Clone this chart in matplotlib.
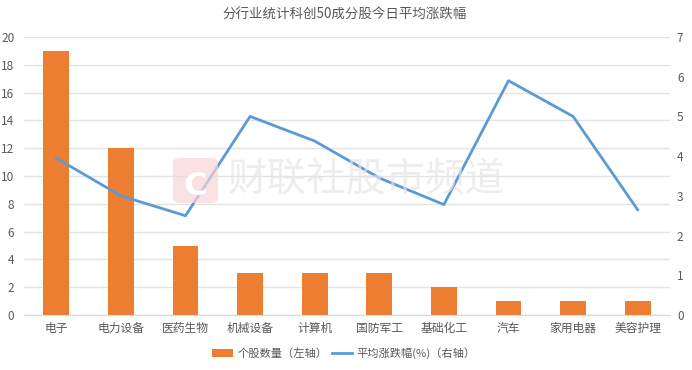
import matplotlib
matplotlib.use("Agg")
import matplotlib.pyplot as plt
from matplotlib.patches import FancyBboxPatch

plt.rcParams['font.family'] = ['Noto Sans CJK SC', 'DejaVu Sans']

categories = ["电子", "电力设备", "医药生物", "机械设备", "计算机", "国防军工", "基础化工", "汽车", "家用电器", "美容护理"]
counts = [19, 12, 5, 3, 3, 3, 2, 1, 1, 1]
changes = [3.95, 3.0, 2.5, 5.0, 4.38, 3.45, 2.78, 5.9, 5.0, 2.65]
left_ticks = list(range(0, 21, 2))
right_ticks = list(range(0, 8))

textcol = "#595959"

fig = plt.figure(figsize=(6.92, 3.70), dpi=100)
ax = fig.add_axes([24 / 692, 1 - 315 / 370, (670 - 24) / 692, (315 - 37) / 370])
ax2 = ax.twinx()

x = list(range(len(categories)))
ax.yaxis.grid(True, color="#E3E3E3", lw=1)
ax.set_axisbelow(True)
bars = ax.bar(x, counts, width=0.4, color="#ED7D31", label="个股数量（左轴）")
line, = ax2.plot(x, changes, color="#5B9BD5", lw=2, label="平均涨跌幅(%)（右轴）")

ax.set_xlim(-0.5, 9.5)
ax.set_ylim(0, 20)
ax2.set_ylim(0, 7)
ax.set_xticks(x)
ax.set_xticklabels(categories, fontsize=8.5, color=textcol)
ax.set_yticks(left_ticks)
ax2.set_yticks(right_ticks)
ax.tick_params(axis="x", length=0, pad=5)
ax.tick_params(axis="y", length=0, labelsize=8.5, labelcolor=textcol, pad=7)
ax2.tick_params(axis="y", length=0, labelsize=8.5, labelcolor=textcol, pad=5)

for a in (ax, ax2):
    for s in ["top", "left", "right"]:
        a.spines[s].set_visible(False)
    a.spines["bottom"].set_color("#D9D9D9")

# watermark
fig.add_artist(FancyBboxPatch((173 / 692, 1 - 203 / 370), 45 / 692, 45 / 370, transform=fig.transFigure,
                              boxstyle="round,pad=0,rounding_size=0.012", fc="#F9D5D8", ec="none", alpha=0.7, zorder=5))
fig.text(195 / 692, 1 - 183 / 370, "C", fontsize=23, fontweight="bold", color="white", va="center_baseline", ha="center", zorder=6,
         family="DejaVu Sans")
fig.text(228 / 692, 1 - 180 / 370, "财联社股市频道", fontsize=28.5, color="#E6E6E6", va="center", ha="left", alpha=0.7, zorder=5)

fig.text(345 / 692, 1 - 15 / 370, "分行业统计科创50成分股今日平均涨跌幅", fontsize=9.7, color=textcol, ha="center", va="center")
fig.legend([bars, line], ["个股数量（左轴）", "平均涨跌幅(%)（右轴）"], loc="center", bbox_to_anchor=(344 / 692, 1 - 353 / 370),
           ncol=2, frameon=False, fontsize=8.1, labelcolor=textcol, handlelength=1.8, columnspacing=0.4, handletextpad=0.4)

fig.savefig("out.png", dpi=100)
